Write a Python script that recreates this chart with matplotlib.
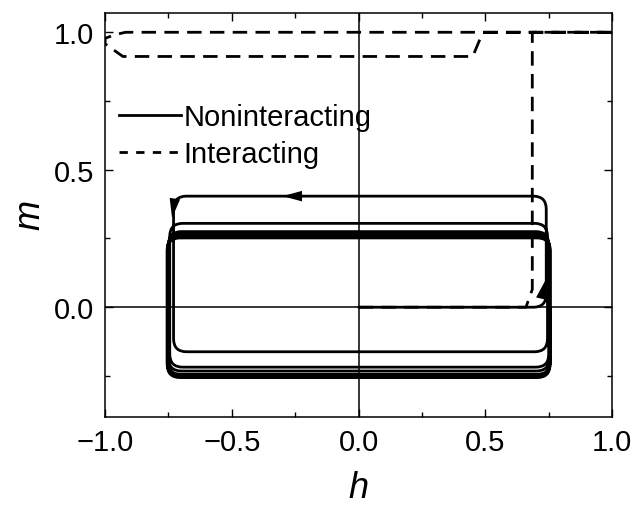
import numpy as np
import matplotlib
matplotlib.use('Agg')
import matplotlib.pyplot as plt
from matplotlib.path import Path
from matplotlib.patches import PathPatch

plt.rcParams['font.family'] = ['Liberation Sans', 'DejaVu Sans']
plt.rcParams['mathtext.fontset'] = 'custom'
plt.rcParams['mathtext.it'] = 'Liberation Sans:italic'

# Noninteracting: plateau levels of m for each successive sweep
top_levels = [0.404, 0.305, 0.275, 0.265, 0.258, 0.252]
bottom_levels = [-0.162, -0.218, -0.232, -0.244, -0.250, -0.256]
# switching fields on each side, per sweep
switch_right = [0.740, 0.745, 0.750, 0.752, 0.755, 0.755]
switch_left = [-0.730, -0.745, -0.750, -0.752, -0.755, -0.755]

# Interacting: corner points of the dashed curve
inter_h = [0.0, 0.66, 0.685, 0.685, 1.0, 1.0, 0.49, 0.45, -0.93, -1.0, -1.0, -0.965, -0.92, 1.0]
inter_m = [0.0, 0.0, 0.065, 1.0, 1.0, 1.0, 1.0, 0.912, 0.912, 0.958, 0.978, 0.99, 1.0, 1.0]

legend_labels = ['Noninteracting', 'Interacting']


def loop_corners():
    h, m = [0.0], [0.0]
    for i in range(len(top_levels)):
        h += [switch_right[i], switch_right[i], switch_left[i], switch_left[i]]
        prev_bottom = 0.0 if i == 0 else bottom_levels[i - 1]
        m += [prev_bottom, top_levels[i], top_levels[i], bottom_levels[i]]
    h += [switch_right[-1], switch_right[-1]]
    m += [bottom_levels[-1], 0.0]
    return h, m


def rounded_path(ax, h, m, radius_px=13):
    # corners become quadratic bezier curves
    pts = np.column_stack([h, m])
    disp = ax.transData.transform(pts)
    verts, codes = [pts[0]], [Path.MOVETO]
    for k in range(1, len(pts) - 1):
        a, p, b = disp[k - 1], disp[k], disp[k + 1]
        la = np.hypot(*(a - p))
        lb = np.hypot(*(b - p))
        ta = min(0.5, radius_px / la) if la > 0 else 0
        tb = min(0.5, radius_px / lb) if lb > 0 else 0
        p_in = pts[k] + (pts[k - 1] - pts[k]) * ta
        p_out = pts[k] + (pts[k + 1] - pts[k]) * tb
        verts += [p_in, pts[k], p_out]
        codes += [Path.LINETO, Path.CURVE3, Path.CURVE3]
    verts.append(pts[-1])
    codes.append(Path.LINETO)
    return Path(verts, codes)


fig = plt.figure(figsize=(6.37, 5.10), dpi=100)
ax = fig.add_axes([0.165, 0.18, 0.796, 0.7925])
ax.set_xlim(-1, 1)
ax.set_ylim(-0.40, 1.07)

ax.axhline(0, color='k', lw=1.1, zorder=1)
ax.axvline(0, color='k', lw=1.1, zorder=1)

lh, lm = loop_corners()
ax.add_patch(PathPatch(rounded_path(ax, lh, lm), fill=False, ec='k', lw=2.0,
                       capstyle='round', joinstyle='round', zorder=3))

ax.plot(inter_h, inter_m, color='k', lw=2.0, linestyle=(0, (5.2, 3.0)), zorder=2)

# direction arrows on the noninteracting loop
arrow = dict(arrowstyle='-|>,head_length=1.4,head_width=0.38', color='k', lw=0,
             shrinkA=0, shrinkB=0)
ax.annotate('', xy=(-0.30, top_levels[0]), xytext=(-0.23, top_levels[0]), arrowprops=arrow)
ax.annotate('', xy=(-0.736, 0.325), xytext=(-0.728, 0.375), arrowprops=arrow)
ax.annotate('', xy=(0.738, 0.10), xytext=(0.716, 0.015), arrowprops=arrow)

# legend drawn with proxy lines
h1, = ax.plot([], [], color='k', lw=2.0)
h2, = ax.plot([], [], color='k', lw=2.0, linestyle=(0, (3.0, 3.0)))
ax.legend([h1, h2], legend_labels, loc='upper left', bbox_to_anchor=(-0.012, 0.828),
          frameon=False, fontsize=21, handlelength=2.1, handletextpad=0.1,
          labelspacing=0.32, borderaxespad=0.3)

ax.set_xticks([-1.0, -0.5, 0.0, 0.5, 1.0])
ax.set_xticklabels(['\u22121.0', '\u22120.5', '0.0', '0.5', '1.0'])
ax.set_xticks([-0.75, -0.25, 0.25, 0.75], minor=True)
ax.set_yticks([0.0, 0.5, 1.0])
ax.set_yticklabels(['0.0', '0.5', '1.0'])
ax.set_yticks([-0.25, 0.25, 0.75], minor=True)
ax.tick_params(which='both', direction='in', top=True, right=True, labelsize=21, width=1.0)
ax.tick_params(which='major', length=6, pad=8)
ax.tick_params(which='minor', length=3.5)
for s in ax.spines.values():
    s.set_linewidth(1.1)

ax.set_xlabel('$h$', fontsize=26, labelpad=10)
ax.set_ylabel('$m$', fontsize=26, labelpad=4)

fig.savefig('out.png', dpi=100)
